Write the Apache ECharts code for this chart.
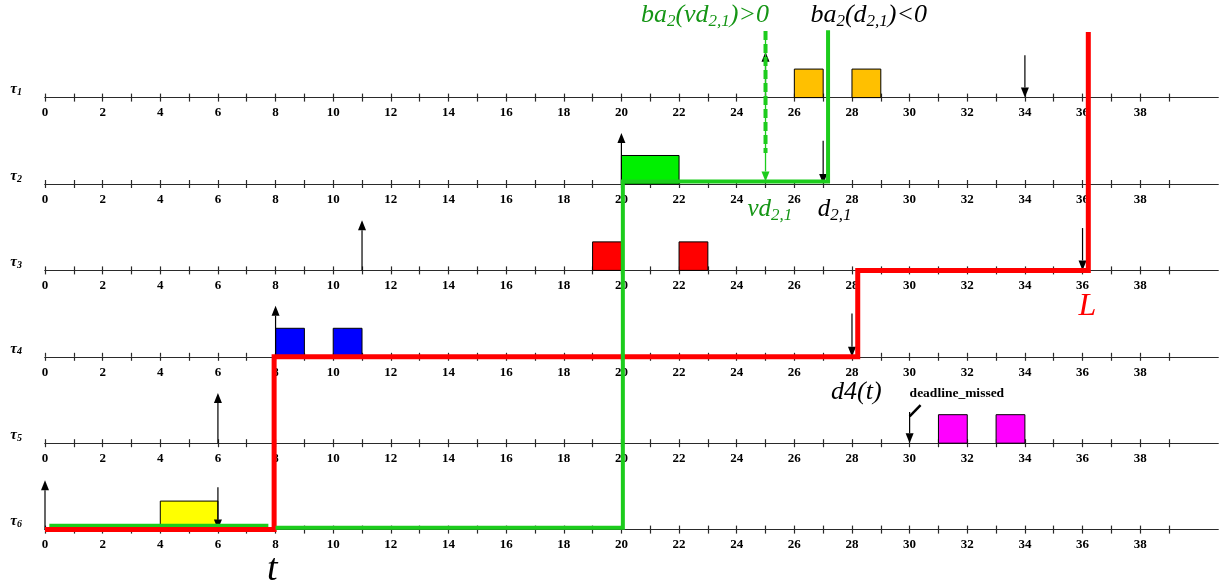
<!DOCTYPE html>
<html><head><meta charset="utf-8">
<script src="https://cdn.jsdelivr.net/npm/echarts@6/dist/echarts.min.js"></script>
<style>html,body{margin:0;padding:0;background:#fff}#c{width:1225px;height:586px}</style>
</head><body><div id="c"></div>
<script>
// ---------- data ----------
const taskSubs = ['1','2','3','4','5','6'];
const taskLevels = [5,4,3,2,1,0];
const tickValues = [0,1,2,3,4,5,6,7,8,9,10,11,12,13,14,15,16,17,18,19,20,21,22,23,24,25,26,27,28,29,30,31,32,33,34,35,36,37,38,39];
const tickLabels = [0,2,4,6,8,10,12,14,16,18,20,22,24,26,28,30,32,34,36,38];
const axisMax = 40.7;

const jobsTau1 = [[26,27],[28,29]];
const jobsTau2 = [[20,22]];
const jobsTau3 = [[19,20],[22,23]];
const jobsTau4 = [[8,9],[10,11]];
const jobsTau5 = [[31,32],[33,34]];
const jobsTau6 = [[4,6]];
const jobColors = ['#ffc000','#00f000','#ff0000','#0000ff','#ff00ff','#ffff00'];

// [x, fromLevel, toLevel]  (arrow head at toLevel)
const releaseArrows  = [[25,5,5.53],[20,4,4.59],[11,3,3.58],[8,2,2.59],[6,1,1.58],[0,0,0.57]];
const deadlineArrows = [[34,5.49,5],[27,4.5,4],[36,3.49,3],[28,2.5,2],[30,1.36,1],[6,0.49,0]];
const virtualDeadlineArrow = [[25,5.77,4.03]];

const redPath    = [[0,0],[7.95,0],[7.95,2],[28.2,2],[28.2,3],[36.2,3],[36.2,5.76]];
const greenPathA = [[0.15,0.045],[7.75,0.045]];
const greenPathB = [[8.0,0.022],[20.05,0.022],[20.05,4.03],[27.17,4.03],[27.17,5.78]];
const greenDash  = [[25,5.77],[25,4.36]];
const missedMark = [[30,1.31],[30.38,1.44]];

// annotation anchors [x, level]
const annBaVd   = [22.9, 5.955];
const annBaD    = [28.58, 5.955];
const annVd     = [25.15, 3.71];
const annD      = [27.4, 3.71];
const annL      = [36.17, 2.58];
const annD4     = [28.15, 1.59];
const annT      = [7.89, -0.47];
const annMissed = [30.0, 1.58];

// ---------- layout ----------
const LEFT = 45, RIGHT = 7, ROW0 = 97.6, ROWSTEP = 86.4;
const BOX_H = 0.33;
const serif = 'Liberation Serif';
const axisColor = '#2a2a2a';

const grids = [], xAxes = [], yAxes = [];
for (let i = 0; i < 6; i++) {
  grids.push({left: LEFT, right: RIGHT, top: ROW0 + ROWSTEP * i, height: 0});
  const line = {show: true, lineStyle: {color: axisColor, width: 1.2}};
  xAxes.push({
    gridIndex: i, type: 'value', min: 0, max: axisMax, position: 'bottom',
    axisLine: line,
    axisTick: {show: true, customValues: tickValues, length: 4, lineStyle: {color: axisColor, width: 1.2}},
    axisLabel: {show: true, customValues: tickLabels, margin: 9, fontSize: 13, fontWeight: 'bold', fontFamily: serif, color: '#000'},
    splitLine: {show: false}
  });
  xAxes.push({
    gridIndex: i, type: 'value', min: 0, max: axisMax, position: 'top',
    axisLine: line,
    axisTick: {show: true, customValues: tickValues, length: 4, lineStyle: {color: axisColor, width: 1.2}},
    axisLabel: {show: false}, splitLine: {show: false}
  });
  yAxes.push({
    gridIndex: i, type: 'value', show: true,
    axisLine: {show: false}, axisTick: {show: false}, axisLabel: {show: false}, splitLine: {show: false},
    name: '{t|τ}{s|' + taskSubs[i] + '}', nameLocation: 'middle', nameRotate: 0, nameGap: 23,
    nameTextStyle: {align: 'right', verticalAlign: 'bottom', rich: {
      t: {fontFamily: serif, fontStyle: 'italic', fontWeight: 'bold', fontSize: 15, color: '#000', lineHeight: 16, verticalAlign: 'middle'},
      s: {fontFamily: serif, fontStyle: 'italic', fontWeight: 'bold', fontSize: 10, color: '#000', lineHeight: 10, verticalAlign: 'bottom'}
    }}
  });
}
// overlay grid
const OV = 12;
const OVG = 6;
grids.push({left: LEFT, right: RIGHT, top: 11.2, bottom: 13.2});
xAxes.push({gridIndex: OVG, type: 'value', min: 0, max: axisMax, show: false});
yAxes.push({gridIndex: OVG, type: 'value', min: -0.5, max: 6, show: false});

// boxes
const allJobs = [jobsTau1, jobsTau2, jobsTau3, jobsTau4, jobsTau5, jobsTau6];
const boxData = [];
allJobs.forEach((jobs, i) => jobs.forEach(j => boxData.push({value: [j[0], j[1], taskLevels[i]], itemStyle: {color: jobColors[i]}})));

function renderBox(params, api) {
  const p0 = api.coord([api.value(0), api.value(2)]);
  const p1 = api.coord([api.value(1), api.value(2) + BOX_H]);
  return {type: 'rect', shape: {x: p0[0], y: p1[1], width: p1[0] - p0[0], height: p0[1] - p1[1]},
    style: {fill: api.visual('color'), stroke: '#000', lineWidth: 1}};
}
function arrowRenderer(color, lw) {
  return function (params, api) {
    const a = api.coord([api.value(0), api.value(1)]);
    const b = api.coord([api.value(0), api.value(2)]);
    const dir = b[1] < a[1] ? -1 : 1;
    const headLen = 10, headW = 4;
    const by = b[1] - dir * headLen;
    return {type: 'group', children: [
      {type: 'line', shape: {x1: a[0], y1: a[1], x2: b[0], y2: by}, style: {stroke: color, lineWidth: lw}},
      {type: 'polygon', shape: {points: [[b[0], b[1]], [b[0] - headW, by], [b[0] + headW, by]]}, style: {fill: color}}
    ]};
  };
}

const green = '#1ccc1c', greenText = '#159515';
function richStyles(color, main, sub) {
  return {
    m: {fontFamily: serif, fontStyle: 'italic', fontSize: main, color: color, lineHeight: main + 4, verticalAlign: 'middle'},
    s: {fontFamily: serif, fontStyle: 'italic', fontSize: sub, color: color, lineHeight: sub, verticalAlign: 'bottom'}
  };
}
function ann(pos, text, rich, align) {
  return {value: pos, label: {show: true, position: 'inside', align: align || 'center', verticalAlign: 'middle', formatter: text, rich: rich, opacity: 1}};
}
const annotationData = [
  ann(annBaVd, '{m|ba}{s|2}{m|(vd}{s|2,1}{m|)>0}', richStyles(greenText, 26, 17)),
  ann(annBaD, '{m|ba}{s|2}{m|(d}{s|2,1}{m|)<0}', richStyles('#000', 26, 17)),
  ann(annVd, '{m|vd}{s|2,1}', richStyles(greenText, 25, 17)),
  ann(annD, '{m|d}{s|2,1}', richStyles('#000', 25, 17)),
  ann(annL, '{m|L}', richStyles('#ff0000', 32, 20)),
  ann(annD4, '{m|d4(t)}', richStyles('#000', 26, 17)),
  ann(annT, '{m|t}', richStyles('#000', 38, 20)),
  {value: annMissed, label: {show: true, position: 'inside', align: 'left', verticalAlign: 'middle', formatter: 'deadline_missed',
    fontFamily: serif, fontWeight: 'bold', fontSize: 13.5, color: '#000', opacity: 1}}
];

function mk(o) {
  return Object.assign({coordinateSystem: 'cartesian2d', xAxisIndex: OV, yAxisIndex: OVG, animation: false, silent: true, clip: false}, o);
}
const series = [
  mk({type: 'custom', renderItem: renderBox, encode: {x: [0, 1], y: 2}, data: boxData, z: 1}),
  mk({type: 'custom', renderItem: arrowRenderer('#000', 1.2), encode: {x: 0, y: [1, 2]}, data: releaseArrows, z: 2}),
  mk({type: 'custom', renderItem: arrowRenderer('#000', 1.2), encode: {x: 0, y: [1, 2]}, data: deadlineArrows, z: 2}),
  mk({type: 'line', data: missedMark, symbol: 'none', lineStyle: {color: '#000', width: 2.5}, z: 2}),
  mk({type: 'line', data: greenDash, symbol: 'none', lineStyle: {color: green, width: 4, type: [9, 4]}, z: 3}),
  mk({type: 'custom', renderItem: arrowRenderer(green, 1.3), encode: {x: 0, y: [1, 2]}, data: virtualDeadlineArrow, z: 3}),
  mk({type: 'line', data: greenPathA, symbol: 'none', lineStyle: {color: green, width: 4}, z: 3}),
  mk({type: 'line', data: redPath, symbol: 'none', lineStyle: {color: '#ff0000', width: 5, join: 'miter'}, z: 4}),
  mk({type: 'line', data: greenPathB, symbol: 'none', lineStyle: {color: green, width: 4, join: 'miter'}, z: 5}),
  mk({type: 'scatter', data: annotationData, symbolSize: 1, itemStyle: {color: 'rgba(0,0,0,0)', opacity: 1}, z: 6})
];

const chart = echarts.init(document.getElementById('c'), null, {renderer: 'canvas'});
chart.setOption({animation: false, backgroundColor: '#fff', grid: grids, xAxis: xAxes, yAxis: yAxes, series: series});
</script></body></html>
